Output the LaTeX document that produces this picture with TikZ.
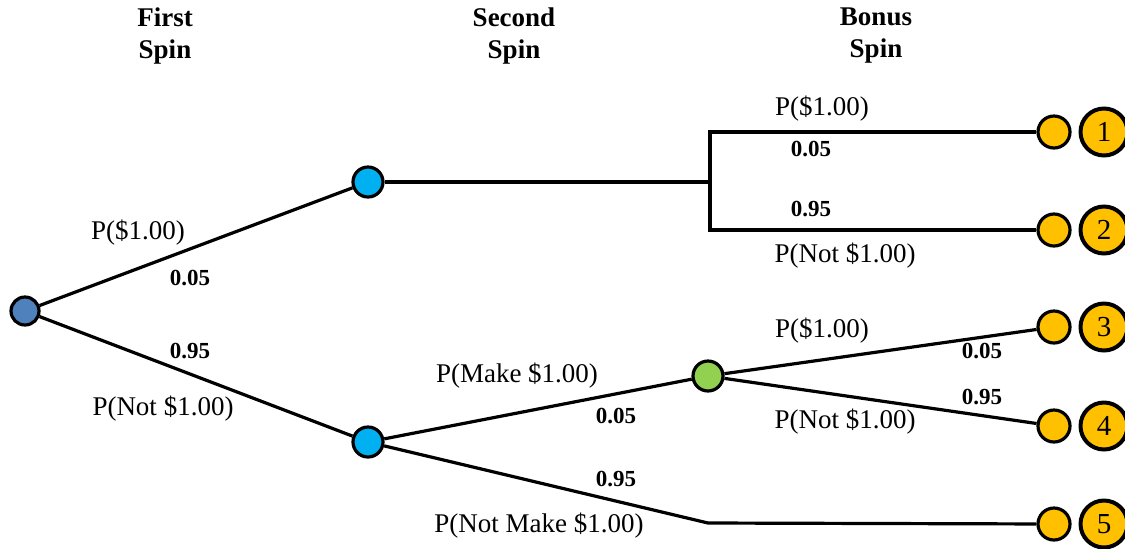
\documentclass[tikz,border=0pt]{standalone}
\usepackage{fontspec}
\setmainfont{Liberation Serif}
\usetikzlibrary{calc}

\definecolor{rootblue}{HTML}{4F81BD}
\definecolor{spinblue}{HTML}{00B0F0}
\definecolor{bonusgreen}{HTML}{92D050}
\definecolor{payoff}{HTML}{FFC000}

\tikzset{
  chance/.style={circle, draw, line width=1.6pt, inner sep=0pt, minimum size=15pt},
  leaf/.style={circle, draw, fill=payoff, line width=1.6pt, inner sep=0pt, minimum size=16pt},
  outcome/.style={circle, draw, fill=payoff, line width=2pt, inner sep=0pt, minimum size=23.5pt,
    font=\fontsize{14.5}{16}\selectfont},
  branch/.style={line width=1.6pt},
  prob/.style={font=\fontsize{13.5}{15}\selectfont},
  pval/.style={font=\fontsize{11.5}{13}\selectfont\bfseries},
  stage/.style={font=\fontsize{13.5}{16}\selectfont\bfseries, align=center}
}

\begin{document}
\begin{tikzpicture}[x=0.5pt, y=-0.5pt]
  \useasboundingbox (0,0) rectangle (1125,548);

  % column headings
  \node[stage] (h1) at (165,36) {First\\Spin};
  \node[stage] (h2) at (514,36) {Second\\Spin};
  \node[stage] (h3) at (876,36) {Bonus\\Spin};

  % chance nodes
  \node[chance, fill=rootblue, minimum size=14pt] (root) at (25,311) {};
  \node[chance, fill=spinblue] (up) at (368,182) {};
  \node[chance, fill=spinblue] (lo) at (368,442) {};
  \node[chance, fill=bonusgreen] (bonus) at (708,376) {};

  % end points and numbered outcomes
  \foreach \i/\y in {1/132, 2/230, 3/327, 4/426, 5/524} {
    \node[leaf] (end\i) at (1054,\y) {};
    \node[outcome] (out\i) at (1104,\y) {\i};
  }

  % corners of the bracket and the bend
  \coordinate (fork) at (710,182);
  \coordinate (forkT) at (710,132);
  \coordinate (forkB) at (710,230);
  \coordinate (bend) at (708,523);

  % first spin
  \draw[branch] (root) -- (up);
  \draw[branch] (root) -- (lo);
  % second spin
  \draw[branch] (up) -- (fork);
  \draw[branch] (lo) -- (bonus);
  \draw[branch] (lo) -- (bend) -- (end5);
  % bonus spins
  \draw[branch] (end1) -- (forkT) -- (forkB) -- (end2);
  \draw[branch] (bonus) -- (end3);
  \draw[branch] (bonus) -- (end4);

  % labels on the branches
  \node[prob] (l1) at (138,233) {P(\$1.00)};
  \node[pval] (v1) at (190,278) {0.05};
  \node[pval] (v2) at (190,351) {0.95};
  \node[prob] (l2) at (163,409) {P(Not \$1.00)};

  \node[prob] (l3) at (517,376) {P(Make \$1.00)};
  \node[pval] (v3) at (616,416) {0.05};
  \node[pval] (v4) at (616,479) {0.95};
  \node[prob] (l4) at (539,526) {P(Not Make \$1.00)};

  \node[prob] (l5) at (822,109) {P(\$1.00)};
  \node[pval] (v5) at (811,149) {0.05};
  \node[pval] (v6) at (811,209) {0.95};
  \node[prob] (l6) at (845,256) {P(Not \$1.00)};

  \node[prob] (l7) at (822,331) {P(\$1.00)};
  \node[pval] (v7) at (982,351) {0.05};
  \node[pval] (v8) at (982,397) {0.95};
  \node[prob] (l8) at (845,422) {P(Not \$1.00)};
\end{tikzpicture}
\end{document}
